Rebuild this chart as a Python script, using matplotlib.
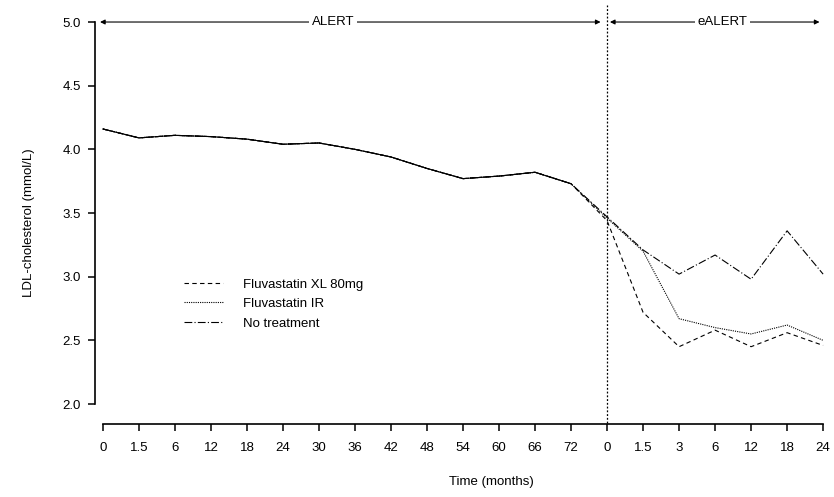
'''
LDL-cholesterol over time in ALERT and eALERT phases
'''
import matplotlib
matplotlib.use('Agg')
import matplotlib.pyplot as plt

plt.rcParams['font.family'] = ['Liberation Sans', 'DejaVu Sans']

# ----------------------------
tick_labels = ['0', '1.5', '6', '12', '18', '24', '30', '36', '42', '48', '54', '60', '66', '72',
               '0', '1.5', '3', '6', '12', '18', '24']

# ALERT phase, shared by all groups
alert_ldl   = [4.16, 4.09, 4.11, 4.10, 4.08, 4.04, 4.05, 4.00, 3.94, 3.85, 3.77, 3.79, 3.82, 3.73]

# eALERT phase
xl80_ldl    = [3.44, 2.72, 2.45, 2.58, 2.45, 2.56, 2.46]
ir_ldl      = [3.46, 3.20, 2.67, 2.60, 2.55, 2.62, 2.50]
none_ldl    = [3.47, 3.21, 3.02, 3.17, 2.98, 3.36, 3.02]

series_names = ['Fluvastatin XL 80mg', 'Fluvastatin IR', 'No treatment']
series_ldl   = [xl80_ldl, ir_ldl, none_ldl]
series_style = [(0, (4, 3)), (0, (1, 1)), (0, (7, 2, 1, 2))]

y_ticks     = [2.0, 2.5, 3.0, 3.5, 4.0, 4.5, 5.0]
fsize       = 9.5
# ----------------------------
def _arrow(ax, x0, x1, y):
    ax.annotate('', xy=(x1, y), xytext=(x0, y),
                arrowprops=dict(arrowstyle='<|-|>', color='black', lw=0.8,
                                mutation_scale=7, shrinkA=0, shrinkB=0),
                annotation_clip=False)
# ----------------------------
def main():
    fig = plt.figure(figsize=(8.34, 4.97), dpi=100)
    ax  = fig.add_axes([0.1139, 0.1469, 0.8765, 0.8088])

    xpos = list(range(len(tick_labels)))
    for name, post, style in zip(series_names, series_ldl, series_style):
        ax.plot(xpos, alert_ldl + post, color='black', lw=0.8, linestyle=style, label=name)

    # the three groups overlap during ALERT and look like one solid line
    nalert = len(alert_ldl)
    ax.plot(xpos[:nalert], alert_ldl, color='black', lw=0.8)

    ax.plot([nalert, nalert], [1.85, 5.13], color='black', lw=0.9, linestyle=(0, (1.5, 1.5)), clip_on=False)

    _arrow(ax, -0.08, nalert - 0.18, 5.0)
    _arrow(ax, nalert + 0.08, 19.9, 5.0)
    ax.text(6.4 , 5.0, 'ALERT' , ha='center', va='center', fontsize=fsize,
            bbox=dict(facecolor='white', edgecolor='none', pad=2))
    ax.text(17.2, 5.0, 'eALERT', ha='center', va='center', fontsize=fsize,
            bbox=dict(facecolor='white', edgecolor='none', pad=2))

    ax.set_xlim(-0.22, 20.08)
    ax.set_ylim(1.843, 5.0)
    ax.set_xticks(xpos)
    ax.set_xticklabels(tick_labels)
    ax.set_yticks(y_ticks)
    ax.set_yticklabels([f'{val:.1f}' for val in y_ticks])

    for side in ['top', 'right']:
        ax.spines[side].set_visible(False)
    ax.spines['left'].set_bounds(2.0, 5.0)
    ax.spines['bottom'].set_bounds(0, 20)
    ax.spines['left'].set_linewidth(1.2)
    ax.spines['bottom'].set_linewidth(1.2)
    ax.tick_params(axis='both', direction='out', length=5, width=1.1, labelsize=fsize)
    ax.tick_params(axis='x', pad=8)
    ax.tick_params(axis='y', pad=5)

    ax.set_xlabel('Time (months)', fontsize=fsize)
    ax.xaxis.set_label_coords(0.542, -0.13)
    ax.set_ylabel('LDL-cholesterol (mmol/L)', fontsize=fsize, labelpad=20)

    ax.legend(loc='upper left', bbox_to_anchor=(0.105, 0.392), frameon=False, fontsize=fsize,
              handlelength=3.0, handletextpad=1.5, labelspacing=0.55)

    fig.savefig('out.png', dpi=100)
    plt.close(fig)
# ----------------------------
if __name__ == '__main__':
    main()
